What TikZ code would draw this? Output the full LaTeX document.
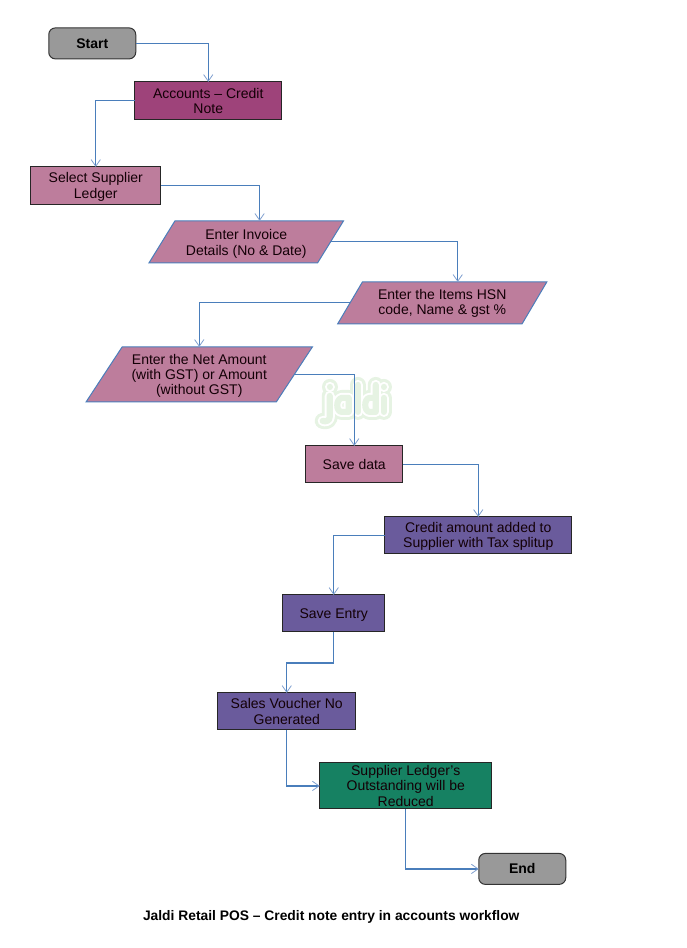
\documentclass[tikz,border=0pt]{standalone}
\usepackage{fontspec}
\setmainfont{Liberation Sans}
\usetikzlibrary{shapes.geometric,arrows.meta,calc}
\definecolor{greyfill}{HTML}{999999}
\definecolor{magentafill}{HTML}{9E437A}
\definecolor{pinkfill}{HTML}{BD7D9C}
\definecolor{purplefill}{HTML}{6A5B9C}
\definecolor{greenfill}{HTML}{168162}
\definecolor{linkblue}{HTML}{4A7EBB}
\definecolor{tipblue}{HTML}{7F9FCF}
\definecolor{wmgreen}{HTML}{E6F3E3}
\newcommand{\firstline}[1]{\rule{0pt}{#1}}
\tikzset{
  x=0.75pt,y=-0.75pt,
  txt/.style={font=\fontsize{10.5pt}{11.6pt}\selectfont,align=center,text=black!90!purple,inner sep=0pt,outer sep=0pt},
  boxa/.style={txt,draw=black!85,line width=0.75pt,rectangle,minimum width=#1},
  terminal/.style={txt,draw=black!80,line width=0.75pt,rectangle,rounded corners=5pt,fill=greyfill,font=\fontsize{10.5pt}{12pt}\selectfont\bfseries,text=black},
  para/.style={txt,shape=trapezium,trapezium stretches=true,draw=linkblue,line width=0.75pt,fill=pinkfill},
  link/.style={draw=linkblue,line width=0.9pt,-{Straight Barb[length=5pt,width=7pt,color=tipblue,line width=0.6pt]}},
  plainlink/.style={draw=linkblue,line width=0.9pt},
  wm/.style={line cap=round,line join=round},
}
\begin{document}
\begin{tikzpicture}
\useasboundingbox (0.25,0.1) rectangle (686.25,948.1);
% watermark
\foreach \w/\c in {12pt/wmgreen,7.6pt/white,4.6pt/wmgreen}{
  \draw[wm,draw=\c,line width=\w] (330,396) -- (330,417) .. controls (330,421) and (326,422) .. (323,421);
  \draw[wm,draw=\c,line width=\w] (330,387) -- (330,387.1);
  \draw[wm,draw=\c,line width=\w] (349,398) -- (342,398) .. controls (336,399) and (336,412) .. (342,412) -- (349,412) -- (349,398);
  \draw[wm,draw=\c,line width=\w] (358,385) -- (358,412);
  \draw[wm,draw=\c,line width=\w] (376,385) -- (376,412) -- (370,412) .. controls (364,412) and (364,398) .. (370,398) -- (376,398);
  \draw[wm,draw=\c,line width=\w] (384,398) -- (384,412);
  \draw[wm,draw=\c,line width=\w] (384,387) -- (384,387.1);
}
% nodes
\node[terminal,minimum width=65.25pt,minimum height=23.25pt] (start) at (92.5,43.5) {Start};
\node[boxa=110.25pt,minimum height=28.5pt,fill=magentafill] (acc) at (208.5,101) {Accounts – Credit\\Note};
\node[boxa=97.5pt,minimum height=28.5pt,fill=pinkfill] (sel) at (96,186) {\firstline{9.1pt}Select Supplier\\Ledger};
\node[para,trapezium left angle=56,trapezium right angle=124,minimum width=146pt,minimum height=31.5pt] (inv) at (246.5,242) {\firstline{10.6pt}Enter Invoice\\Details (No \& Date)};
\node[para,trapezium left angle=56,trapezium right angle=124,minimum width=157pt,minimum height=31.5pt] (hsn) at (442.5,303) {\firstline{8.4pt}Enter the Items HSN\\code, Name \& gst \%};
\node[para,trapezium left angle=56,trapezium right angle=124,minimum width=170pt,minimum height=41.25pt] (net) at (199.5,374.5) {\firstline{9.85pt}Enter the Net Amount\\(with GST) or Amount\\(without GST)};
\node[boxa=72.75pt,minimum height=27.75pt,fill=pinkfill] (save) at (354.5,464.5) {Save data};
\node[boxa=140.25pt,minimum height=27.75pt,fill=purplefill] (credit) at (478.5,535.5) {\firstline{9.1pt}Credit amount added to\\Supplier with Tax splitup};
\node[boxa=76.5pt,minimum height=27.75pt,fill=purplefill,text depth=0pt] (entry) at (334,613.5) {Save Entry};
\node[boxa=103.5pt,minimum height=27.75pt,fill=purplefill] (sales) at (287,711.5) {Sales Voucher No\\Generated};
\node[boxa=129pt,minimum height=34.5pt,fill=greenfill] (supp) at (406,786) {Supplier Ledger's\\Outstanding will be\\Reduced};
\node[terminal,minimum width=65.25pt,minimum height=23.25pt] (endn) at (522.5,869) {End};
\node[font=\fontsize{10.37pt}{12pt}\selectfont\bfseries,inner sep=0pt,text=black] (title) at (331.5,917) {Jaldi Retail POS – Credit note entry in accounts workflow};
% connectors
\draw[link] (start.east) -| (acc.north);
\draw[link] (acc.west) -| (sel.north);
\draw[link] (sel.east) -| ([xshift=10pt]inv.north);
\draw[link] (inv.east) -| ([xshift=11.6pt]hsn.north);
\draw[link] (hsn.west) -| (net.north);
\draw[link] (net.east) -| (save.north);
\draw[link] (save.east) -| (credit.north);
\draw[link] (credit.west) -| (entry.north);
\coordinate (bend) at ($(entry.south)+(0,31)$);
\draw[plainlink] (entry.south) -- (bend);
\draw[link] (bend) -| (sales.north);
\draw[link] (sales.south) |- (supp.west);
\draw[link] (supp.south) |- (endn.west);
\end{tikzpicture}
\end{document}
